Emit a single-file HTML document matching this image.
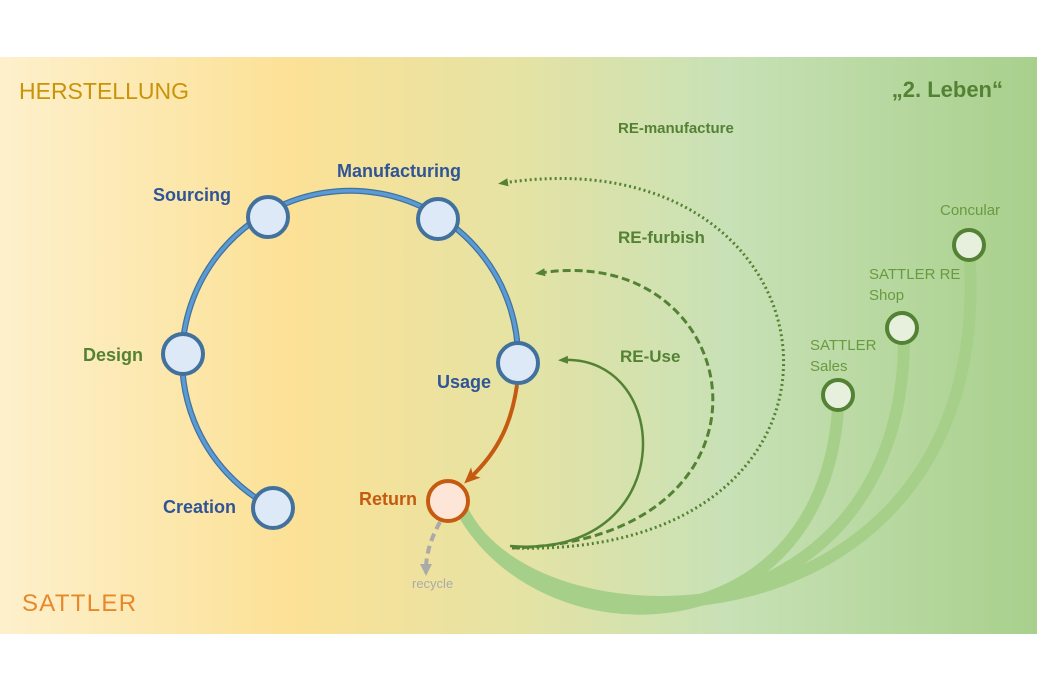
<!DOCTYPE html>
<html><head><meta charset="utf-8"><style>
body{margin:0;width:1037px;height:691px;background:#fff;overflow:hidden}
svg{display:block}
text{font-family:"Liberation Sans",sans-serif}
</style></head><body>
<svg width="1037" height="691" viewBox="0 0 1037 691">
<defs>
<linearGradient id="bg" x1="0" x2="1" y1="0" y2="0">
<stop offset="0" stop-color="#fdf0cc"/>
<stop offset="0.28" stop-color="#fce196"/>
<stop offset="0.5" stop-color="#e5e3a4"/>
<stop offset="0.7" stop-color="#c8e1b6"/>
<stop offset="1" stop-color="#a8d08c"/>
</linearGradient>
<marker id="ag" markerWidth="10" markerHeight="10" refX="5" refY="5" orient="auto" markerUnits="userSpaceOnUse"><path d="M0,1 L10,5 L0,9 Z" fill="#548235"/></marker>
<marker id="ao" markerWidth="16" markerHeight="16" refX="8" refY="8" orient="auto" markerUnits="userSpaceOnUse"><path d="M0,1 L16,8 L0,15 L4,8 Z" fill="#c55a11"/></marker>
<marker id="agr" markerWidth="12" markerHeight="12" refX="6" refY="6" orient="auto" markerUnits="userSpaceOnUse"><path d="M0,0 L12,6 L0,12 Z" fill="#aaa"/></marker>
</defs>
<rect x="0" y="57" width="1037" height="577" fill="url(#bg)"/>
<text x="19" y="99" font-size="23" fill="#c9930a">HERSTELLUNG</text>
<text x="1003" y="97" font-size="22" font-weight="bold" fill="#548235" text-anchor="end">„2. Leben“</text>
<text x="22" y="611" font-size="24" fill="#e5892a" letter-spacing="1.3">SATTLER</text>

<!-- green thick arcs -->
<g fill="none" stroke="#a6d08a" stroke-width="12" stroke-linecap="round">
<path d="M462 510 C540 655 820 655 838 410"/>
<path d="M462 510 C540 660 900 650 904 343"/>
<path d="M462 510 C540 665 990 650 970 262"/>
</g>

<!-- RE curves -->
<path d="M512 548 C900 560 850 130 503 183" fill="none" stroke="#548235" stroke-width="3" stroke-dasharray="2 3" marker-end="url(#ag)"/>
<path d="M512 548 C800 540 750 240 540 273" fill="none" stroke="#548235" stroke-width="3" stroke-dasharray="8 4" marker-end="url(#ag)"/>
<path d="M510 546 C680 560 675 355 563 360" fill="none" stroke="#548235" stroke-width="2.5" marker-end="url(#ag)"/>
<text x="618" y="133" font-size="15" font-weight="bold" fill="#548235">RE-manufacture</text>
<text x="618" y="243" font-size="17" font-weight="bold" fill="#548235">RE-furbish</text>
<text x="620" y="362" font-size="17" font-weight="bold" fill="#548235">RE-Use</text>

<!-- blue circle arc -->
<path d="M273 508 A168 168 0 1 1 518 363" fill="none" stroke="#41719c" stroke-width="6"/>
<path d="M273 508 A168 168 0 1 1 518 363" fill="none" stroke="#5b9bd5" stroke-width="3.5"/>
<path d="M517 385 C512 420 500 450 470 478" fill="none" stroke="#c55a11" stroke-width="4" marker-end="url(#ao)"/>
<path d="M440 522 C430 540 426 555 426 570" fill="none" stroke="#aaa" stroke-width="4" stroke-dasharray="8 5" marker-end="url(#agr)"/>

<g fill="#dde9f6" stroke="#41719c" stroke-width="4">
<circle cx="268" cy="217" r="20"/>
<circle cx="438" cy="219" r="20"/>
<circle cx="183" cy="354" r="20"/>
<circle cx="518" cy="363" r="20"/>
<circle cx="273" cy="508" r="20"/>
</g>
<circle cx="448" cy="501" r="20" fill="#fde5d7" stroke="#c55a11" stroke-width="4"/>
<g fill="#e6f0dc" stroke="#548235" stroke-width="4">
<circle cx="969" cy="245" r="15"/>
<circle cx="902" cy="328" r="15"/>
<circle cx="838" cy="395" r="15"/>
</g>

<g font-size="18" font-weight="bold" fill="#2f5597">
<text x="153" y="201">Sourcing</text>
<text x="337" y="177">Manufacturing</text>
<text x="437" y="388">Usage</text>
<text x="163" y="513">Creation</text>
</g>
<text x="83" y="361" font-size="18" font-weight="bold" fill="#548235">Design</text>
<text x="359" y="505" font-size="18" font-weight="bold" fill="#c55a11">Return</text>
<text x="412" y="588" font-size="13" fill="#aaa">recycle</text>
<g font-size="15" fill="#6a9a40">
<text x="940" y="215">Concular</text>
<text x="869" y="279">SATTLER RE</text>
<text x="869" y="300">Shop</text>
<text x="810" y="350">SATTLER</text>
<text x="810" y="371">Sales</text>
</g>
</svg>
</body></html>
